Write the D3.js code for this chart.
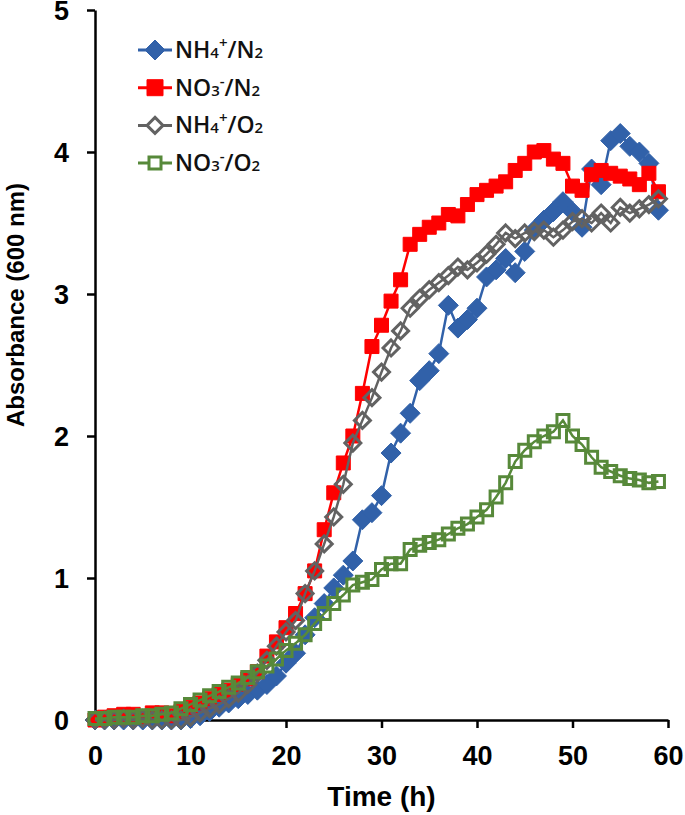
<!DOCTYPE html>
<html>
<head>
<meta charset="utf-8">
<script src="https://cdn.jsdelivr.net/npm/d3@7"></script>
<style>
  body { margin: 0; background: #fff; }
  svg { display: block; }
</style>
</head>
<body>
<svg id="chart" width="685" height="815"></svg>
<script>
var svg = d3.select("#chart");

// time (h), one reading per hour
var hours = d3.range(0, 60);

// NH4+/N2
var nh4N2 = [0.00, 0.00, 0.00, 0.00, 0.00, 0.00, 0.00, 0.00, 0.00, 0.00,
             0.01, 0.03, 0.06, 0.09, 0.12, 0.15, 0.18, 0.21, 0.25, 0.31,
             0.40, 0.47, 0.60, 0.72, 0.82, 0.93, 1.02, 1.12, 1.41, 1.46,
             1.58, 1.88, 2.02, 2.16, 2.39, 2.46, 2.58, 2.92, 2.76, 2.82,
             2.90, 3.12, 3.17, 3.25, 3.15, 3.30, 3.45, 3.52, 3.58, 3.65,
             3.58, 3.47, 3.88, 3.77, 4.08, 4.13, 4.04, 4.00, 3.92, 3.59];

// NO3-/N2
var no3N2 = [0.00, 0.02, 0.03, 0.04, 0.04, 0.02, 0.05, 0.05, 0.03, 0.06,
             0.09, 0.12, 0.15, 0.18, 0.21, 0.25, 0.29, 0.34, 0.45, 0.55,
             0.65, 0.75, 0.89, 1.05, 1.34, 1.60, 1.81, 2.00, 2.30, 2.63,
             2.78, 2.95, 3.10, 3.35, 3.42, 3.47, 3.50, 3.56, 3.55, 3.63,
             3.70, 3.73, 3.76, 3.79, 3.87, 3.92, 4.00, 4.01, 3.95, 3.92,
             3.76, 3.73, 3.84, 3.87, 3.85, 3.83, 3.81, 3.77, 3.85, 3.72];

// NH4+/O2
var nh4O2 = [0.00, 0.00, 0.00, 0.01, 0.00, 0.01, 0.00, 0.00, 0.00, 0.00,
             0.02, 0.05, 0.08, 0.11, 0.15, 0.19, 0.25, 0.33, 0.42, 0.52,
             0.62, 0.70, 0.89, 1.05, 1.24, 1.43, 1.66, 1.95, 2.11, 2.27,
             2.45, 2.62, 2.74, 2.90, 2.97, 3.03, 3.08, 3.13, 3.19, 3.17,
             3.22, 3.28, 3.35, 3.43, 3.39, 3.43, 3.44, 3.45, 3.40, 3.45,
             3.51, 3.53, 3.50, 3.57, 3.50, 3.61, 3.57, 3.60, 3.63, 3.67];

// NO3-/O2
var no3O2 = [0.01, 0.01, 0.02, 0.02, 0.02, 0.03, 0.03, 0.04, 0.05, 0.08,
             0.11, 0.14, 0.17, 0.20, 0.23, 0.26, 0.30, 0.34, 0.38, 0.43,
             0.49, 0.54, 0.60, 0.68, 0.75, 0.82, 0.88, 0.95, 0.97, 0.99,
             1.06, 1.10, 1.10, 1.20, 1.23, 1.25, 1.27, 1.31, 1.35, 1.38,
             1.43, 1.48, 1.57, 1.67, 1.82, 1.90, 1.96, 2.00, 2.03, 2.11,
             2.00, 1.94, 1.85, 1.78, 1.75, 1.72, 1.70, 1.69, 1.67, 1.68];

var xTicks = [0, 10, 20, 30, 40, 50, 60];
var yTicks = [0, 1, 2, 3, 4, 5];

var series = [
  {name: ["NH", "4", "+", "/N", "2"], values: nh4N2, color: "#3161a9", shape: "diamond", hollow: false},
  {name: ["NO", "3", "-", "/N", "2"], values: no3N2, color: "#ff0000", shape: "square", hollow: false},
  {name: ["NH", "4", "+", "/O", "2"], values: nh4O2, color: "#626262", shape: "diamond", hollow: true},
  {name: ["NO", "3", "-", "/O", "2"], values: no3O2, color: "#57893a", shape: "square", hollow: true}
];

var x = d3.scaleLinear().domain([0, 60]).range([95, 668]);
var y = d3.scaleLinear().domain([0, 5]).range([720, 10]);

var axisFont = "'Liberation Sans', Arial, sans-serif";

// axes
var xAxis = svg.append("g")
  .attr("transform", "translate(0,720)")
  .call(d3.axisBottom(x).tickValues(xTicks).tickFormat(d3.format("d")).tickSize(8).tickSizeOuter(0));
var yAxis = svg.append("g")
  .attr("transform", "translate(95,0)")
  .call(d3.axisLeft(y).tickValues(yTicks).tickFormat(d3.format("d")).tickSize(8).tickSizeOuter(0));

[xAxis, yAxis].forEach(function(ax) {
  ax.selectAll("path, line").attr("stroke", "#000").attr("stroke-width", 2.5);
  ax.selectAll("text")
    .style("font-family", axisFont)
    .style("font-weight", "bold")
    .style("font-size", "27px")
    .attr("fill", "#000");
});
xAxis.selectAll("text").attr("y", 26).attr("dy", "0.71em");
yAxis.selectAll("text").attr("x", -26).attr("dy", "0.36em");

// axis titles
svg.append("text")
  .attr("x", (x(0) + x(60)) / 2)
  .attr("y", 806)
  .attr("text-anchor", "middle")
  .style("font-family", axisFont)
  .style("font-weight", "bold")
  .style("font-size", "28px")
  .text("Time (h)");

svg.append("text")
  .attr("transform", "translate(24,305) rotate(-90)")
  .attr("text-anchor", "middle")
  .style("font-family", axisFont)
  .style("font-weight", "bold")
  .style("font-size", "24px")
  .text("Absorbance (600 nm)");

function markerPath(shape, size) {
  if (shape === "diamond") {
    return "M0," + (-size) + "L" + size + ",0L0," + size + "L" + (-size) + ",0Z";
  }
  return "M" + (-size) + "," + (-size) + "H" + size + "V" + size + "H" + (-size) + "Z";
}

var line = d3.line()
  .x(function(d) { return x(d[0]); })
  .y(function(d) { return y(d[1]); });

var plot = svg.append("g");

series.forEach(function(s) {
  var pts = hours.map(function(h, i) { return [h, s.values[i]]; });
  var g = plot.append("g");
  g.append("path")
    .datum(pts)
    .attr("d", line)
    .attr("fill", "none")
    .attr("stroke", s.color)
    .attr("stroke-width", 2.5);

  var size = s.shape === "diamond" ? (s.hollow ? 8 : 10) : (s.hollow ? 6 : 7);
  g.selectAll("path.mk")
    .data(pts)
    .enter()
    .append("path")
      .attr("class", "mk")
      .attr("transform", function(d) { return "translate(" + x(d[0]) + "," + y(d[1]) + ")"; })
      .attr("d", markerPath(s.shape, size))
      .attr("fill", s.hollow ? "none" : s.color)
      .attr("stroke", s.color)
      .attr("stroke-width", s.hollow ? 3 : 1);
});

// legend
var legend = svg.append("g").attr("transform", "translate(138,50)");
var rows = legend.selectAll("g")
  .data(series)
  .enter()
  .append("g")
    .attr("transform", function(d, i) { return "translate(0," + (i * 37.7) + ")"; });

rows.append("line")
  .attr("x1", 0).attr("x2", 34)
  .attr("stroke", function(d) { return d.color; })
  .attr("stroke-width", 3);

rows.append("path")
  .attr("transform", "translate(17,0)")
  .attr("d", function(d) {
    return markerPath(d.shape, d.shape === "diamond" ? (d.hollow ? 8 : 10) : (d.hollow ? 6 : 8));
  })
  .attr("fill", function(d) { return d.hollow ? "#fff" : d.color; })
  .attr("stroke", function(d) { return d.color; })
  .attr("stroke-width", function(d) { return d.hollow ? 3 : 1; });

var label = rows.append("text")
  .attr("x", 37)
  .attr("y", 8)
  .style("font-family", "'Open Sans', 'Noto Sans', sans-serif")
  .style("font-size", "23px")
  .style("font-weight", "600")
  .attr("fill", "#111");

label.each(function(d) {
  var t = d3.select(this);
  t.append("tspan").text(d.name[0]);
  t.append("tspan").style("font-size", "15px").text(d.name[1]);
  t.append("tspan").style("font-size", "15px").attr("dy", -10).text(d.name[2]);
  t.append("tspan").attr("dy", 10).text(d.name[3]);
  t.append("tspan").style("font-size", "15px").text(d.name[4]);
});
</script>
</body>
</html>
